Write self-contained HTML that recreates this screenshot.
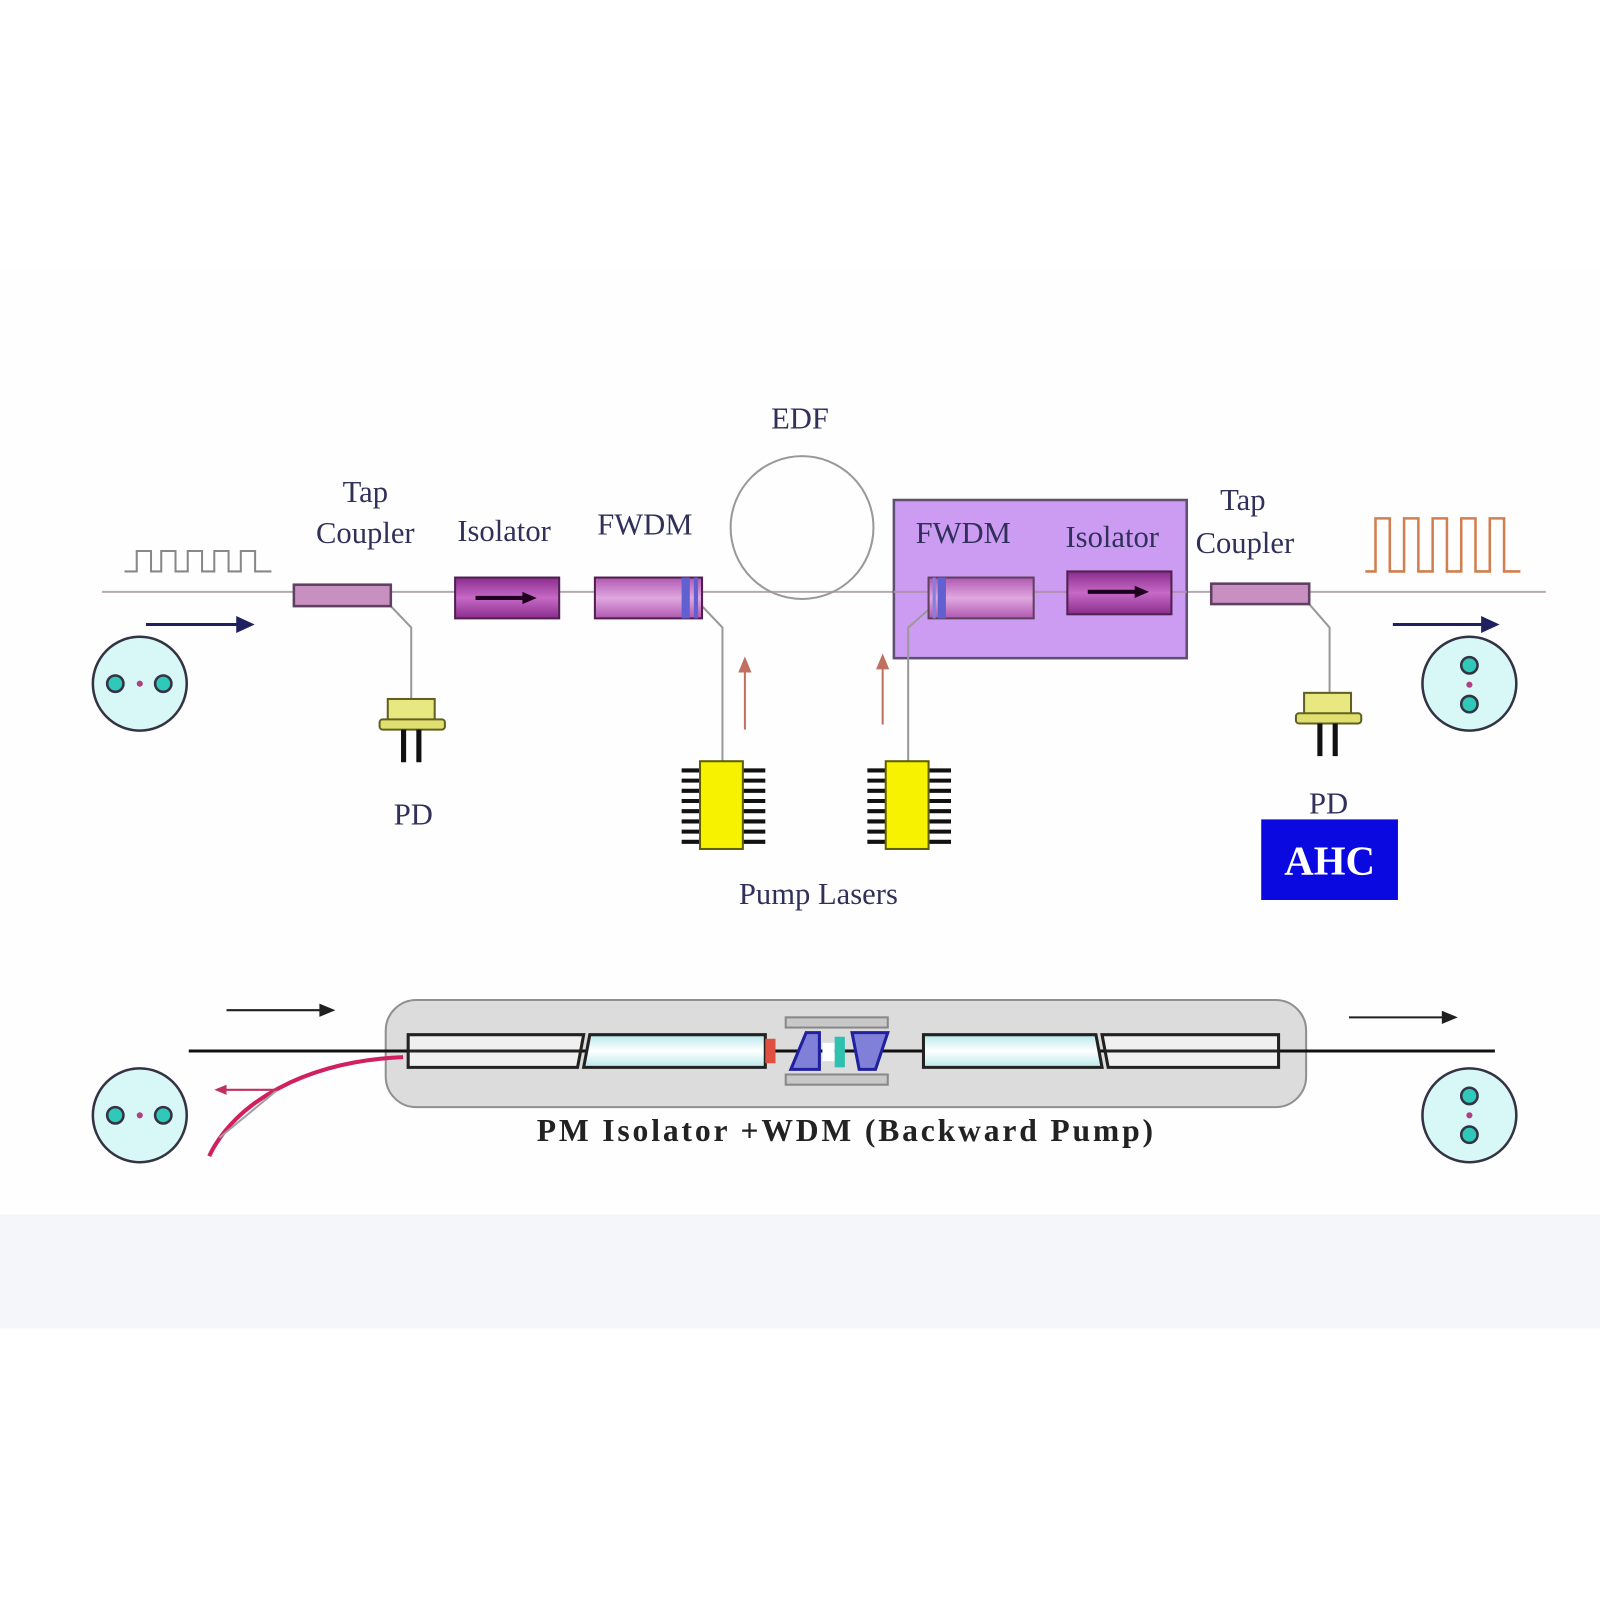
<!DOCTYPE html>
<html><head><meta charset="utf-8"><style>html,body{margin:0;padding:0;background:#fff}svg{display:block}</style></head><body>
<svg width="1600" height="1600" viewBox="0 0 1568 1568" xmlns="http://www.w3.org/2000/svg" font-family="Liberation Serif, serif">
<defs>
<linearGradient id="iso" x1="0" y1="0" x2="0" y2="1"><stop offset="0" stop-color="#8a2c8c"/><stop offset="0.5" stop-color="#c66ac6"/><stop offset="1" stop-color="#8a2c8c"/></linearGradient>
<linearGradient id="fw" x1="0" y1="0" x2="0" y2="1"><stop offset="0" stop-color="#b058b0"/><stop offset="0.5" stop-color="#e0a8e0"/><stop offset="1" stop-color="#b058b0"/></linearGradient>
<linearGradient id="ln" x1="0" y1="0" x2="0" y2="1"><stop offset="0" stop-color="#b8e8ea"/><stop offset="0.5" stop-color="#ffffff"/><stop offset="1" stop-color="#b8e8ea"/></linearGradient>
</defs>
<rect x="0" y="1190" width="1568" height="112" fill="#f4f6f9"/>
<rect x="0" y="265" width="1568" height="925" fill="#fefeff"/>
<line x1="100" y1="580" x2="1515" y2="580" stroke="#b8a8b0" stroke-width="2"/>
<polyline points="122,560 134,560 134,540 148,540 148,560 158,560 158,540 172,540 172,560 184,560 184,540 198,540 198,560 210,560 210,540 224,540 224,560 236,560 236,540 250,540 250,560 266,560" fill="none" stroke="#888" stroke-width="2"/>
<polyline points="1338,560 1348,560 1348,508 1362,508 1362,560 1376,560 1376,508 1390,508 1390,560 1404,560 1404,508 1418,508 1418,560 1432,560 1432,508 1446,508 1446,560 1460,560 1460,508 1474,508 1474,560 1490,560" fill="none" stroke="#d08050" stroke-width="2.5"/>
<g stroke="#202060" stroke-width="3" fill="#202060">
<line x1="143" y1="612" x2="235" y2="612"/><polygon points="246,612 233,606 233,618"/>
<line x1="1365" y1="612" x2="1455" y2="612"/><polygon points="1466,612 1453,606 1453,618"/>
</g>
<g stroke="#334" stroke-width="2.5">
<circle cx="137" cy="670" r="46" fill="#d8f8f8"/>
<circle cx="113" cy="670" r="8" fill="#30c8b8"/><circle cx="160" cy="670" r="8" fill="#30c8b8"/>
<circle cx="1440" cy="670" r="46" fill="#d8f8f8"/>
<circle cx="1440" cy="652" r="8" fill="#30c8b8"/><circle cx="1440" cy="690" r="8" fill="#30c8b8"/>
<circle cx="137" cy="1093" r="46" fill="#d8f8f8"/>
<circle cx="113" cy="1093" r="8" fill="#30c8b8"/><circle cx="160" cy="1093" r="8" fill="#30c8b8"/>
<circle cx="1440" cy="1093" r="46" fill="#d8f8f8"/>
<circle cx="1440" cy="1074" r="8" fill="#30c8b8"/><circle cx="1440" cy="1112" r="8" fill="#30c8b8"/>
</g>
<g fill="#b04080"><circle cx="137" cy="670" r="3"/><circle cx="1440" cy="671" r="3"/><circle cx="137" cy="1093" r="3"/><circle cx="1440" cy="1093" r="3"/></g>
<circle cx="786" cy="517" r="70" fill="none" stroke="#999" stroke-width="2"/>
<rect x="876" y="490" width="287" height="155" fill="#cc9cf2" stroke="#605070" stroke-width="2.5"/>
<line x1="876" y1="580" x2="1163" y2="580" stroke="#b090b0" stroke-width="2"/>
<g fill="none" stroke="#999" stroke-width="2">
<polyline points="383,594 403,615 403,688"/>
<polyline points="688,594 708,615 708,748"/>
<polyline points="914,594 890,615 890,748"/>
<polyline points="1283,592 1303,615 1303,680"/>
</g>
<g stroke="#c07060" stroke-width="2" fill="#c07060">
<line x1="730" y1="715" x2="730" y2="655"/><polygon points="730,646 725,658 735,658"/>
<line x1="865" y1="710" x2="865" y2="652"/><polygon points="865,643 860,655 870,655"/>
</g>
<rect x="288" y="573" width="95" height="21" fill="#c890c0" stroke="#604060" stroke-width="2.5"/>
<rect x="1187" y="572" width="96" height="20" fill="#c890c0" stroke="#604060" stroke-width="2.5"/>
<rect x="446" y="566" width="102" height="40" fill="url(#iso)" stroke="#502050" stroke-width="2"/>
<line x1="466" y1="586" x2="515" y2="586" stroke="#200020" stroke-width="4"/><polygon points="526,586 512,580 512,592" fill="#200020"/>
<rect x="1046" y="560" width="102" height="42" fill="url(#iso)" stroke="#502050" stroke-width="2"/>
<line x1="1066" y1="580" x2="1115" y2="580" stroke="#200020" stroke-width="4"/><polygon points="1126,580 1112,574 1112,586" fill="#200020"/>
<rect x="583" y="566" width="105" height="40" fill="url(#fw)" stroke="#502050" stroke-width="2"/>
<rect x="668" y="566" width="8" height="40" fill="#6060d0"/><rect x="680" y="566" width="4" height="40" fill="#6060d0"/>
<rect x="910" y="566" width="103" height="40" fill="url(#fw)" stroke="#604060" stroke-width="2"/>
<rect x="919" y="566" width="8" height="40" fill="#6060d0"/><rect x="914" y="566" width="3" height="40" fill="#8080e0"/>
<g id="pd">
<rect x="380" y="685" width="46" height="22" fill="#e8e880" stroke="#606020" stroke-width="2"/>
<rect x="372" y="705" width="64" height="10" rx="3" fill="#e0e070" stroke="#606020" stroke-width="2"/>
<rect x="393" y="715" width="5" height="32" fill="#111"/><rect x="408" y="715" width="5" height="32" fill="#111"/>
</g>
<use href="#pd" x="898" y="-6"/>
<g id="chip">
<g stroke="#111" stroke-width="4">
<line x1="668" y1="755" x2="688" y2="755"/><line x1="668" y1="765" x2="688" y2="765"/><line x1="668" y1="775" x2="688" y2="775"/><line x1="668" y1="785" x2="688" y2="785"/><line x1="668" y1="795" x2="688" y2="795"/><line x1="668" y1="805" x2="688" y2="805"/><line x1="668" y1="815" x2="688" y2="815"/><line x1="668" y1="825" x2="688" y2="825"/>
<line x1="728" y1="755" x2="750" y2="755"/><line x1="728" y1="765" x2="750" y2="765"/><line x1="728" y1="775" x2="750" y2="775"/><line x1="728" y1="785" x2="750" y2="785"/><line x1="728" y1="795" x2="750" y2="795"/><line x1="728" y1="805" x2="750" y2="805"/><line x1="728" y1="815" x2="750" y2="815"/><line x1="728" y1="825" x2="750" y2="825"/>
</g>
<rect x="686" y="746" width="42" height="86" fill="#f6f200" stroke="#606000" stroke-width="2"/>
</g>
<use href="#chip" x="182" y="0"/>
<rect x="1236" y="803" width="134" height="79" fill="#0a0ae0"/>
<text x="1303" y="857" font-size="40" font-weight="bold" fill="#fff" text-anchor="middle">AHC</text>
<g font-size="30" fill="#30305a" text-anchor="middle">
<text x="358" y="492">Tap</text><text x="358" y="532">Coupler</text>
<text x="494" y="530">Isolator</text>
<text x="632" y="524">FWDM</text>
<text x="784" y="420">EDF</text>
<text x="944" y="532">FWDM</text>
<text x="1090" y="536">Isolator</text>
<text x="1218" y="500">Tap</text><text x="1220" y="542">Coupler</text>
<text x="405" y="808">PD</text>
<text x="1302" y="797">PD</text>
<text x="802" y="886">Pump Lasers</text>
</g>
<rect x="378" y="980" width="902" height="105" rx="30" fill="#dcdcdc" stroke="#909090" stroke-width="2"/>
<line x1="185" y1="1030" x2="1465" y2="1030" stroke="#111" stroke-width="3"/>
<path d="M395,1036 C300,1040 230,1080 205,1133" fill="none" stroke="#d02060" stroke-width="4"/>
<g stroke="#202020" stroke-width="2" fill="#202020">
<line x1="222" y1="990" x2="315" y2="990"/><polygon points="326,990 314,985 314,995"/>
<line x1="1322" y1="997" x2="1415" y2="997"/><polygon points="1426,997 1414,992 1414,1002"/>
</g>
<polyline points="272,1068 215,1115" fill="none" stroke="#a0a0a0" stroke-width="2"/>
<line x1="218" y1="1068" x2="272" y2="1068" stroke="#c03060" stroke-width="2"/><polygon points="210,1068 222,1063 222,1073" fill="#c03060"/>
<polygon points="400,1014 572,1014 566,1046 400,1046" fill="#f0f0f0" stroke="#222" stroke-width="3"/>
<line x1="400" y1="1030" x2="569" y2="1030" stroke="#222" stroke-width="3"/>
<polygon points="578,1014 750,1014 750,1046 572,1046" fill="url(#ln)" stroke="#222" stroke-width="3"/>
<rect x="750" y="1018" width="10" height="24" fill="#e05040"/>
<rect x="770" y="997" width="100" height="10" fill="#c8c8c8" stroke="#888" stroke-width="2"/>
<rect x="770" y="1053" width="100" height="10" fill="#c8c8c8" stroke="#888" stroke-width="2"/>
<polygon points="790,1012 803,1012 803,1048 775,1048" fill="#8080d8" stroke="#2020a0" stroke-width="3"/>
<rect x="806" y="1022" width="12" height="18" fill="#fff"/><rect x="818" y="1016" width="10" height="30" fill="#30c0b0"/>
<polygon points="835,1012 870,1012 858,1048 842,1048" fill="#8080d8" stroke="#2020a0" stroke-width="3"/>
<polygon points="905,1014 1074,1014 1080,1046 905,1046" fill="url(#ln)" stroke="#222" stroke-width="3"/>
<polygon points="1080,1014 1253,1014 1253,1046 1086,1046" fill="#f0f0f0" stroke="#222" stroke-width="3"/>
<line x1="1083" y1="1030" x2="1253" y2="1030" stroke="#222" stroke-width="3"/>
<text x="526" y="1118" font-size="31" font-weight="bold" fill="#222" textLength="604" lengthAdjust="spacing">PM Isolator +WDM (Backward Pump)</text>
</svg>
</body></html>
